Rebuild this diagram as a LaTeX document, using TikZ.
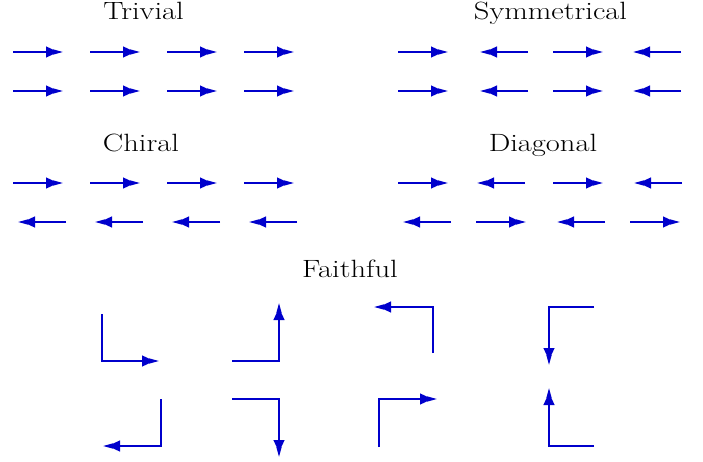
\documentclass[tikz,border=0pt]{standalone}
\usepackage{fontspec}
\usetikzlibrary{arrows.meta}
\definecolor{spin-blue}{RGB}{0, 0, 204}
\newcommand{\ttl}[1]{\scalebox{1.22}[1]{#1}}
\tikzset{
	spin/.style={draw=spin-blue, line width=1.3pt,
		-{Triangle[length=12pt,width=11pt,sep=-5pt]Triangle[length=10pt,width=5pt]}},
	title/.style={anchor=base, inner sep=0pt, font=\fontsize{25}{30}\selectfont\addfontfeatures{FakeBold=1.5}}
}
\begin{document}
\begin{tikzpicture}[x=1pt, y=-1pt]
\useasboundingbox (0,0) rectangle (703,462);

\node [title] (trivial) at (143.5,19.3) {\ttl{Trivial}};
\node [title] (symm) at (550.5,19.3) {\ttl{Symmetrical}};
\node [title] (chiral) at (141,152) {\ttl{Chiral}};
\node [title] (diag) at (543,152) {\ttl{Diagonal}};
\node [title] (faith) at (350,277) {\ttl{Faithful}};

% trivial
\foreach \y in {52,91}{
	\foreach \x in {13,90,167,244}{
		\draw [spin] (\x,\y) -- ++(50,0);
	}
}

% symmetrical
\foreach \y in {52,91}{
	\foreach \x in {398,553}{
		\draw [spin] (\x,\y) -- ++(50,0);
	}
	\foreach \x in {528,681}{
		\draw [spin] (\x,\y) -- ++(-48,0);
	}
}

% chiral
\foreach \x in {13,90,167,244}{
	\draw [spin] (\x,183) -- ++(50,0);
}
\foreach \x in {66,143,220,297}{
	\draw [spin] (\x,222) -- ++(-48,0);
}

% diagonal
\foreach \x in {398,553}{
	\draw [spin] (\x,183) -- ++(50,0);
}
\foreach \x in {525,682}{
	\draw [spin] (\x,183) -- ++(-48,0);
}
\foreach \x in {451,605}{
	\draw [spin] (\x,222) -- ++(-48,0);
}
\foreach \x in {476,630}{
	\draw [spin] (\x,222) -- ++(50,0);
}

% faithful
\draw [spin] (102,314) |- (159,361);
\draw [spin] (232,361) -| (279,303);
\draw [spin] (161,399) |- (103,446);
\draw [spin] (232,399) -| (279,457);
\draw [spin] (433,353) |- (374,307);
\draw [spin] (594,307) -| (549,365);
\draw [spin] (379,447) |- (437,399);
\draw [spin] (594,446) -| (549,388);

\end{tikzpicture}
\end{document}
